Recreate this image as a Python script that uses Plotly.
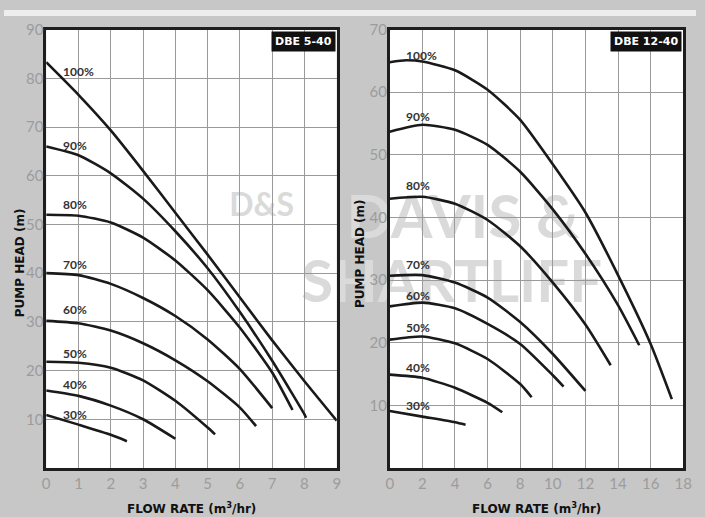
import plotly.graph_objects as go

# ---------------- DATA ----------------
speeds = ["100%", "90%", "80%", "70%", "60%", "50%", "40%", "30%"]

# DBE 5-40 (flow m3/hr, head m)
a_x_100 = [0, 1, 2, 3, 4, 5, 6, 7, 8, 9]
a_y_100 = [83.3, 76.6, 69.3, 61.0, 52.4, 43.8, 35.0, 26.2, 17.8, 9.7]
a_x_90 = [0, 1, 2, 3, 4, 5, 6, 7, 8, 8.05]
a_y_90 = [66.0, 64.2, 60.5, 55.3, 48.6, 41.0, 32.0, 22.0, 11.0, 10.3]
a_x_80 = [0, 1, 2, 3, 4, 5, 6, 7, 7.63]
a_y_80 = [52.0, 51.8, 50.4, 47.3, 42.6, 36.5, 28.8, 19.6, 11.9]
a_x_70 = [0, 1, 2, 3, 4, 5, 6, 7]
a_y_70 = [40.0, 39.6, 37.8, 34.9, 31.2, 26.4, 20.3, 12.3]
a_x_60 = [0, 1, 2, 3, 4, 5, 6, 6.5]
a_y_60 = [30.2, 29.7, 28.2, 25.6, 22.1, 17.8, 12.4, 8.6]
a_x_50 = [0, 1, 2, 3, 4, 5, 5.23]
a_y_50 = [21.8, 21.6, 20.6, 18.0, 13.8, 8.3, 6.9]
a_x_40 = [0, 1, 2, 3, 4]
a_y_40 = [15.9, 14.8, 12.8, 10.0, 6.0]
a_x_30 = [0, 1, 2, 2.5]
a_y_30 = [10.9, 8.9, 6.8, 5.5]
a_label_y = [81.5, 66.3, 54.0, 41.7, 32.5, 23.4, 17.1, 10.9]

# DBE 12-40
b_x_100 = [0, 1, 2, 4, 6, 8, 10, 12, 14, 16, 17.3]
b_y_100 = [64.8, 65.1, 64.9, 63.5, 60.4, 55.6, 48.5, 40.8, 30.8, 19.8, 11.0]
b_x_90 = [0, 2, 4, 6, 8, 10, 12, 14, 15.3]
b_y_90 = [53.7, 54.8, 54.0, 51.6, 47.3, 41.3, 34.2, 26.0, 19.6]
b_x_80 = [0, 2, 4, 6, 8, 10, 12, 13.55]
b_y_80 = [43.0, 43.3, 42.2, 39.6, 35.4, 29.6, 22.9, 16.4]
b_x_70 = [0, 2, 4, 6, 8, 10, 12]
b_y_70 = [30.7, 30.8, 29.6, 27.2, 23.3, 18.2, 12.3]
b_x_60 = [0, 2, 4, 6, 8, 10, 10.66]
b_y_60 = [25.8, 26.4, 25.5, 23.0, 19.8, 14.8, 13.0]
b_x_50 = [0, 2, 4, 6, 8, 8.7]
b_y_50 = [20.5, 21.0, 19.9, 17.4, 13.4, 11.3]
b_x_40 = [0, 2, 4, 6, 6.9]
b_y_40 = [14.9, 14.4, 12.8, 10.4, 8.9]
b_x_30 = [0, 2, 4, 4.65]
b_y_30 = [9.1, 8.2, 7.3, 6.9]
b_label_y = [65.9, 56.2, 45.1, 32.5, 27.5, 22.4, 16.1, 10.0]

a_xticks = [0, 1, 2, 3, 4, 5, 6, 7, 8, 9]
a_yticks = [10, 20, 30, 40, 50, 60, 70, 80, 90]
b_xticks = [0, 2, 4, 6, 8, 10, 12, 14, 16, 18]
b_yticks = [10, 20, 30, 40, 50, 60, 70]

# ---------------- FIGURE ----------------
W, H = 705, 517
fig = go.Figure()

a_series = [(a_x_100, a_y_100), (a_x_90, a_y_90), (a_x_80, a_y_80), (a_x_70, a_y_70),
            (a_x_60, a_y_60), (a_x_50, a_y_50), (a_x_40, a_y_40), (a_x_30, a_y_30)]
b_series = [(b_x_100, b_y_100), (b_x_90, b_y_90), (b_x_80, b_y_80), (b_x_70, b_y_70),
            (b_x_60, b_y_60), (b_x_50, b_y_50), (b_x_40, b_y_40), (b_x_30, b_y_30)]

line_style = dict(color="#1a1a1a", width=2.6, shape="spline", smoothing=0.6)

for name, (xs, ys) in zip(speeds, a_series):
    fig.add_trace(go.Scatter(x=xs, y=ys, mode="lines", line=line_style, name=name,
                             xaxis="x", yaxis="y", showlegend=False, hoverinfo="skip"))
for name, (xs, ys) in zip(speeds, b_series):
    fig.add_trace(go.Scatter(x=xs, y=ys, mode="lines", line=line_style, name=name,
                             xaxis="x2", yaxis="y2", showlegend=False, hoverinfo="skip"))

annotations = []
lab_font = dict(family="Lato", size=12, color="#333333", weight="bold")
for name, ly in zip(speeds, a_label_y):
    annotations.append(dict(x=0.45, y=ly, xref="x", yref="y", text=name, showarrow=False,
                            xanchor="left", yanchor="middle", font=lab_font))
for name, ly in zip(speeds, b_label_y):
    annotations.append(dict(x=0.85, y=ly, xref="x2", yref="y2", text=name, showarrow=False,
                            xanchor="left", yanchor="middle", font=lab_font))

# model tags
for txt, xr, yr in [("DBE 5-40", "x domain", "y domain"), ("DBE 12-40", "x2 domain", "y2 domain")]:
    annotations.append(dict(x=1, y=1, xref=xr, yref=yr,
                            text="<b>" + txt + "</b>", showarrow=False, xanchor="right", yanchor="top",
                            bgcolor="#111111", font=dict(family="DejaVu Sans", size=11, color="white"),
                            borderpad=3, xshift=-1, yshift=-1))

# axis titles
title_font = dict(family="DejaVu Sans", size=12, color="#111111", weight="bold")
for xr in ["x domain", "x2 domain"]:
    annotations.append(dict(x=0.5, y=9 / H, xref=xr, yref="paper", text="FLOW RATE (m<sup>3</sup>/hr)",
                            showarrow=False, xanchor="center", yanchor="middle", font=title_font))
annotations.append(dict(x=16 / W, y=0.5 + 1 / H, xref="paper", yref="paper", text="PUMP HEAD (m)",
                        textangle=-90, showarrow=False, xanchor="center", yanchor="middle", font=title_font))
annotations.append(dict(x=362 / W, y=0.5 + 10 / H, xref="paper", yref="paper", text="PUMP HEAD (m)",
                        textangle=-90, showarrow=False, xanchor="center", yanchor="middle", font=title_font))

axis_common = dict(showgrid=True, gridcolor="#9a9a9a", gridwidth=1.4, showline=True, mirror=True,
                   linecolor="#1e1e1e", linewidth=2.6, zeroline=False, ticks="",
                   tickfont=dict(family="Lato", size=15, color="#9c9c9c"), fixedrange=True)

dom_a = [43 / W, 339 / W]
dom_b = [393 / W, 692 / W]
dom_y = [50 / H, 497 / H]

wm_font = dict(family="Lato", color="#dadada", weight="bold")

fig.update_layout(
    width=W, height=H,
    margin=dict(l=0, r=0, t=0, b=0),
    paper_bgcolor="#c7c7c7",
    plot_bgcolor="white",
    xaxis=dict(domain=dom_a, range=[0, 9], tickvals=a_xticks, anchor="y", **axis_common),
    yaxis=dict(domain=dom_y, range=[0, 90], tickvals=a_yticks, anchor="x", ticklabelstandoff=-3, **axis_common),
    xaxis2=dict(domain=dom_b, range=[0, 18], tickvals=b_xticks, anchor="y2", **axis_common),
    yaxis2=dict(domain=dom_y, range=[0, 70], tickvals=b_yticks, anchor="x2", ticklabelstandoff=-3, **axis_common),
    annotations=annotations,
    shapes=[
        dict(type="rect", xref="paper", yref="paper", x0=0, x1=1, y0=1 - 6 / H, y1=1,
             fillcolor="#eeeeee", line=dict(width=0), layer="below"),
        dict(type="rect", xref="paper", yref="paper", x0=225 / W, x1=300 / W, y0=1 - 215 / H, y1=1 - 180 / H,
             fillcolor="rgba(0,0,0,0)", line=dict(width=0), layer="below",
             label=dict(text="D&amp;S", font=dict(size=32, **wm_font))),
        dict(type="rect", xref="paper", yref="paper", x0=330 / W, x1=605 / W, y0=1 - 240 / H, y1=1 - 176 / H,
             fillcolor="rgba(0,0,0,0)", line=dict(width=0), layer="below",
             label=dict(text="DAVIS &amp;", font=dict(size=60, **wm_font))),
        dict(type="rect", xref="paper", yref="paper", x0=300 / W, x1=612 / W, y0=1 - 306 / H, y1=1 - 242 / H,
             fillcolor="rgba(0,0,0,0)", line=dict(width=0), layer="below",
             label=dict(text="SHARTLIFF", font=dict(size=58, **wm_font))),
    ],
)

fig.write_html("out.html", config={"displayModeBar": False},
               post_script="document.body.style.margin='0';")
